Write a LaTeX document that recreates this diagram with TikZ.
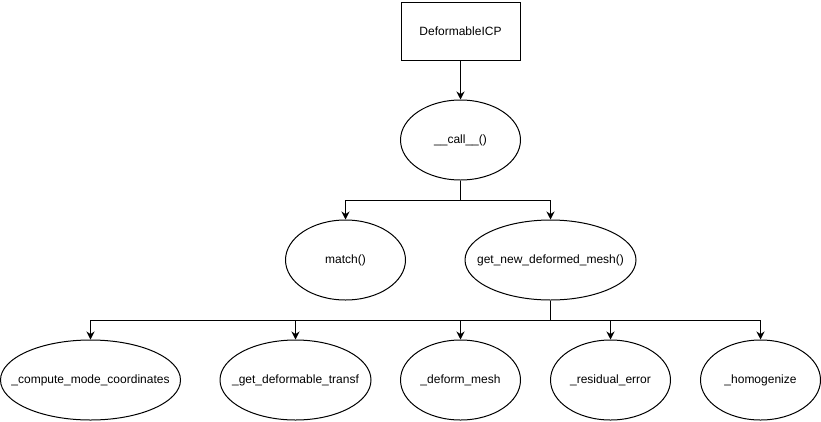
\documentclass[tikz,border=0pt]{standalone}
\usepackage{fontspec}
\setmainfont{Liberation Sans}
\usepackage{tikz}
\usetikzlibrary{shapes.geometric,arrows.meta}

% label that does not widen the ellipse
\newcommand{\fnlabel}[1]{\makebox[0pt]{#1}}

\begin{document}
\begin{tikzpicture}[x=1pt,y=-1pt,line width=1pt,
    font=\fontsize{12}{14}\selectfont,
    cls/.style={draw,rectangle,minimum width=119pt,minimum height=58pt,inner sep=0pt},
    fn/.style={draw,ellipse,minimum width=120pt,minimum height=80pt,inner sep=0pt},
    arr/.style={-{Stealth[length=8pt,width=8pt]}}]
  \useasboundingbox (0,0) rectangle (821,421);

  \node[cls](icp) at (460.5,31){DeformableICP};
  \node[fn](call) at (460.5,140){\fnlabel{\_\_call\_\_()}};
  \node[fn](match) at (345.5,260){\fnlabel{match()}};
  \node[fn,minimum width=171pt](getmesh) at (550.5,260){\fnlabel{get\_new\_deformed\_mesh()}};

  \node[fn,minimum width=180pt](modecoords) at (90.5,380){\fnlabel{\_compute\_mode\_coordinates}};
  \node[fn,minimum width=151pt](transf) at (295.5,380){\fnlabel{\_get\_deformable\_transf}};
  \node[fn](deform) at (460.5,380){\fnlabel{\_deform\_mesh}};
  \node[fn](residual) at (610.5,380){\fnlabel{\_residual\_error}};
  \node[fn](homog) at (760.5,380){\fnlabel{\_homogenize}};

  \coordinate(split1) at (460.5,200);
  \coordinate(split2) at (550.5,320);

  \draw[arr] (icp) -- (call);
  \draw (call) -- (split1);
  \draw[arr] (split1) -| (match);
  \draw[arr] (split1) -| (getmesh);

  \draw (getmesh) -- (split2);
  \foreach \f in {modecoords,transf,deform,residual,homog}
    \draw[arr] (split2) -| (\f);
\end{tikzpicture}
\end{document}
